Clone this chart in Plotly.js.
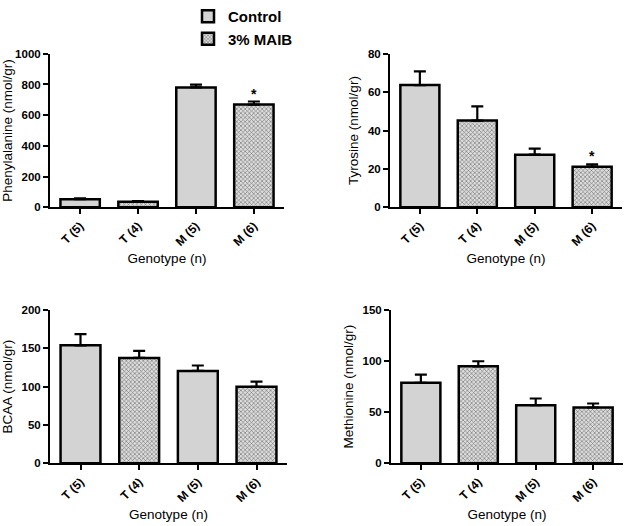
<!DOCTYPE html>
<html>
<head>
<meta charset="utf-8">
<script src="https://cdn.plot.ly/plotly-3.0.1.min.js"></script>
<style>html,body{margin:0;padding:0;background:#fff;}#chart{width:629px;height:526px;}</style>
</head>
<body>
<div id="chart"></div>
<script>
// Categories (genotype with n)
const categories = ['T (5)', 'T (4)', 'M (5)', 'M (6)'];
const controlCats = ['T (5)', 'M (5)'];
const maibCats = ['T (4)', 'M (6)'];
const seriesNames = ['Control', '3% MAIB'];

// Panel titles (y axis)
const yTitles = ['Phenylalanine (nmol/gr)', 'Tyrosine (nmol/gr)', 'BCAA (nmol/gr)', 'Methionine (nmol/gr)'];
const xTitle = 'Genotype (n)';

// Values: [Control T(5), Control M(5)] and [MAIB T(4), MAIB M(6)]
const pheControl = [52, 781];
const pheControlErr = [6, 18];
const pheMaib = [35, 669];
const pheMaibErr = [5, 20];

const tyrControl = [63.7, 27.4];
const tyrControlErr = [7.1, 3.2];
const tyrMaib = [45.2, 21.1];
const tyrMaibErr = [7.4, 1.2];

const bcaaControl = [153.7, 120.4];
const bcaaControlErr = [14.7, 7.0];
const bcaaMaib = [137.3, 99.6];
const bcaaMaibErr = [9.1, 6.9];

const metControl = [78.6, 56.8];
const metControlErr = [8.1, 6.5];
const metMaib = [94.8, 54.5];
const metMaibErr = [4.9, 3.9];

const yRanges = [[0, 1000], [0, 80], [0, 200], [0, 150]];
const yDticks = [200, 20, 50, 50];
// significance stars: [panel index, category]
const starPanels = [0, 1];
const starCat = 'M (6)';

const panels = [
  {c: pheControl, ce: pheControlErr, m: pheMaib, me: pheMaibErr},
  {c: tyrControl, ce: tyrControlErr, m: tyrMaib, me: tyrMaibErr},
  {c: bcaaControl, ce: bcaaControlErr, m: bcaaMaib, me: bcaaMaibErr},
  {c: metControl, ce: metControlErr, m: metMaib, me: metMaibErr}
];

const W = 629, H = 526;
// pixel boxes of plot areas [x0, x1, yTop, yBottom]
const boxes = [
  [50, 284, 52, 206],
  [390, 622, 52, 206],
  [50, 287, 309, 463],
  [391, 623, 309, 463]
];

const FONT = 'Liberation Sans, Arial, sans-serif';
const traces = [];
const layout = {
  width: W, height: H,
  margin: {l: 0, r: 0, t: 0, b: 0},
  paper_bgcolor: '#fff', plot_bgcolor: '#fff',
  barmode: 'overlay',
  showlegend: true,
  legend: {
    x: 188 / W, y: 1 + 2 / H, xanchor: 'left', yanchor: 'top',
    font: {family: FONT, size: 15, color: '#000', weight: 'bold'},
    tracegroupgap: 0, itemwidth: 30, bgcolor: 'rgba(0,0,0,0)'
  },
  font: {family: FONT, color: '#000'},
  annotations: []
};

panels.forEach((p, i) => {
  const xa = 'x' + (i === 0 ? '' : i + 1);
  const ya = 'y' + (i === 0 ? '' : i + 1);
  const errStyle = {type: 'data', symmetric: false, thickness: 2.2, width: 6, color: '#000'};
  traces.push({
    type: 'bar', name: seriesNames[0], x: controlCats, y: p.c,
    xaxis: xa, yaxis: ya, width: 0.68, showlegend: i === 0, legendgroup: 'c',
    marker: {color: '#d3d3d3', line: {color: '#000', width: 2.5}},
    error_y: Object.assign({array: p.ce, arrayminus: [0, 0]}, errStyle),
    hoverinfo: 'skip'
  });
  traces.push({
    type: 'bar', name: seriesNames[1], x: maibCats, y: p.m,
    xaxis: xa, yaxis: ya, width: 0.68, showlegend: i === 0, legendgroup: 'm',
    marker: {color: '#cfcfcf', line: {color: '#000', width: 2.5},
      pattern: {shape: 'x', size: 3, solidity: 0.35, fgcolor: '#6e6e6e', bgcolor: '#dcdcdc', fillmode: 'replace'}},
    error_y: Object.assign({array: p.me, arrayminus: [0, 0]}, errStyle),
    hoverinfo: 'skip'
  });
  const b = boxes[i];
  const axKey = 'xaxis' + (i === 0 ? '' : i + 1);
  const ayKey = 'yaxis' + (i === 0 ? '' : i + 1);
  layout[axKey] = {
    domain: [b[0] / W, b[1] / W], anchor: ya,
    type: 'category', categoryorder: 'array', categoryarray: categories,
    range: [-0.52, 3.52],
    showline: true, linecolor: '#000', linewidth: 2,
    ticks: 'outside', ticklen: 5, tickwidth: 2, tickcolor: '#000',
    tickangle: -45, showgrid: false, zeroline: false,
    tickfont: {family: FONT, size: 12, color: '#000', weight: 'bold'},
    title: {text: xTitle, font: {family: FONT, size: 13.5, color: '#000'}, standoff: 6},
    fixedrange: true
  };
  layout[ayKey] = {
    domain: [1 - b[3] / H, 1 - b[2] / H], anchor: xa,
    range: yRanges[i], dtick: yDticks[i], tick0: 0,
    showline: true, linecolor: '#000', linewidth: 2,
    ticks: 'outside', ticklen: 5, tickwidth: 2, tickcolor: '#000',
    showgrid: false, zeroline: false,
    tickfont: {family: FONT, size: 11.5, color: '#000', weight: 'bold'},
    title: {text: yTitles[i], font: {family: FONT, size: 13.5, color: '#000'}, standoff: 6},
    fixedrange: true
  };
});

starPanels.forEach(i => {
  const p = panels[i];
  const idx = maibCats.indexOf(starCat);
  layout.annotations.push({
    xref: 'x' + (i === 0 ? '' : i + 1), yref: 'y' + (i === 0 ? '' : i + 1),
    x: starCat, y: p.m[idx] + p.me[idx], text: '*', showarrow: false,
    yanchor: 'bottom', yshift: -2,
    font: {family: FONT, size: 14, color: '#000', weight: 'bold'}
  });
});

Plotly.newPlot('chart', traces, layout, {displayModeBar: false, staticPlot: true});
</script>
</body>
</html>
